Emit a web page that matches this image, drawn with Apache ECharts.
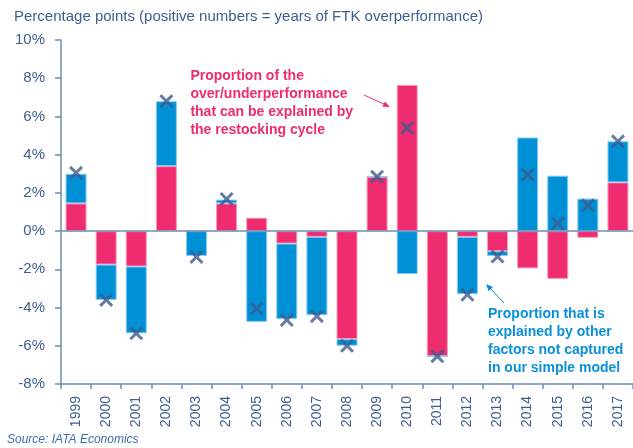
<!DOCTYPE html>
<html>
<head>
<meta charset="utf-8">
<script src="https://cdn.jsdelivr.net/npm/echarts@6/dist/echarts.min.js"></script>
<style>
    html, body { margin: 0; padding: 0; background: #fff; }
    #chart { width: 633px; height: 448px; }
</style>
</head>
<body>
<div id="chart"></div>
<script>
// 数据
const years = ['1999', '2000', '2001', '2002', '2003', '2004', '2005', '2006', '2007', '2008',
    '2009', '2010', '2011', '2012', '2013', '2014', '2015', '2016', '2017'];
// restocking cycle part (pink)
const restocking = [1.45, -1.75, -1.85, 3.4, 0, 1.45, 0.7, -0.65, -0.3, -5.65,
    2.85, 7.65, -6.55, -0.3, -1.05, -1.95, -2.5, -0.35, 2.55];
// other factors part (blue)
const otherFactors = [1.55, -1.85, -3.5, 3.4, -1.3, 0.2, -4.75, -3.95, -4.1, -0.35,
    0, -2.25, 0, -3.0, -0.25, 4.9, 2.9, 1.7, 2.15];
// total over/underperformance (crosses)
const total = [3.05, -3.6, -5.35, 6.8, -1.35, 1.68, -4.05, -4.65, -4.45, -6.0,
    2.85, 5.4, -6.55, -3.33, -1.33, 2.95, 0.4, 1.35, 4.7];
const yTicks = { min: -8, max: 10, interval: 2 };

const PINK = '#ee2c6f';
const BLUE = '#0090d6';
const TEXT = '#3d5f90';
const AXIS = '#6f8cb6';
const CROSS = '#3f5a8c';

const chart = echarts.init(document.getElementById('chart'));

chart.setOption({
    animation: false,
    grid: { left: 61, top: 40, width: 576, bottom: 64 },
    xAxis: {
        type: 'category',
        data: years,
        axisLine: { onZero: false, lineStyle: { color: AXIS, width: 1.5 } },
        axisTick: { show: true, length: 5, lineStyle: { color: AXIS, width: 1.5 } },
        axisLabel: {
            rotate: 90, margin: 12, color: TEXT, fontSize: 14,
            fontFamily: 'Liberation Sans'
        }
    },
    yAxis: {
        type: 'value',
        min: yTicks.min, max: yTicks.max, interval: yTicks.interval,
        axisLine: { show: true, lineStyle: { color: AXIS, width: 1.5 } },
        axisTick: { show: true, length: 6, lineStyle: { color: AXIS, width: 1.5 } },
        splitLine: { show: false },
        axisLabel: {
            formatter: '{value}%', margin: 16, color: TEXT, fontSize: 15,
            fontFamily: 'Liberation Sans'
        }
    },
    series: [
        {
            type: 'bar', stack: 'a', data: restocking, barWidth: 21,
            itemStyle: { color: PINK, borderColor: '#f79bbb', borderWidth: 1 }
        },
        {
            type: 'bar', stack: 'a', data: otherFactors, barWidth: 21,
            itemStyle: { color: BLUE, borderColor: '#86cdf3', borderWidth: 1 }
        },
        {
            type: 'scatter', data: total, z: 5,
            symbol: 'path://M0,3 L3,0 L10,7 L17,0 L20,3 L13,10 L20,17 L17,20 L10,13 L3,20 L0,17 L7,10 Z',
            symbolSize: 14,
            itemStyle: { color: CROSS },
            markLine: {
                silent: true, symbol: 'none', label: { show: false },
                lineStyle: { color: AXIS, width: 1.5, type: 'solid' },
                data: [{ yAxis: 0 }]
            }
        }
    ],
    graphic: [
        {
            type: 'text', left: 14, top: 9,
            style: {
                text: 'Percentage points (positive numbers = years of FTK overperformance)',
                fill: TEXT, font: '15px "Liberation Sans"'
            }
        },
        {
            type: 'text', left: 7, top: 434,
            style: {
                text: 'Source: IATA Economics',
                fill: '#3e6daa', font: 'italic 12px "Liberation Sans"'
            }
        },
        {
            type: 'text', right: 280, top: 67,
            style: {
                text: 'Proportion of the\nover/underperformance\nthat can be explained by\nthe restocking cycle',
                fill: PINK, font: 'bold 14px "Liberation Sans"', align: 'right', lineHeight: 18
            }
        },
        {
            type: 'line', shape: { x1: 364, y1: 95, x2: 386, y2: 105 },
            style: { stroke: PINK, lineWidth: 1 }
        },
        {
            type: 'polygon', shape: { points: [[390, 107], [382.4, 106.8], [384.9, 101.4]] },
            style: { fill: PINK }
        },
        {
            type: 'text', left: 488, top: 305,
            style: {
                text: 'Proportion that is\nexplained by other\nfactors not captured\nin our simple model',
                fill: '#0a90d8', font: 'bold 14px "Liberation Sans"', align: 'left', lineHeight: 18
            }
        },
        {
            type: 'line', shape: { x1: 504, y1: 303, x2: 489, y2: 287 },
            style: { stroke: '#0a90d8', lineWidth: 1 }
        },
        {
            type: 'polygon', shape: { points: [[486, 284], [493, 287], [488.6, 291.2]] },
            style: { fill: '#0a90d8' }
        }
    ]
});
</script>
</body>
</html>
